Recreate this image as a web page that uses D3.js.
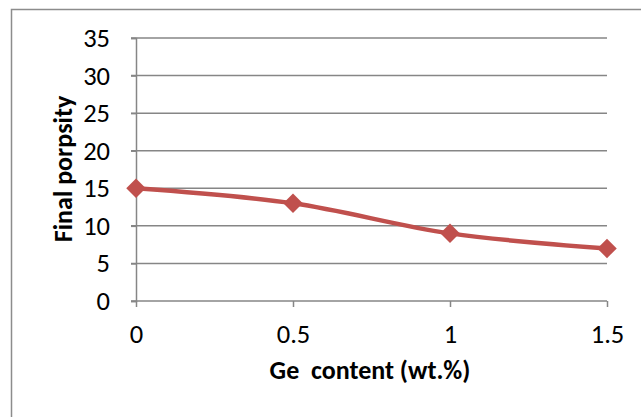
<!DOCTYPE html>
<html>
<head>
<meta charset="utf-8">
<script src="https://cdn.jsdelivr.net/npm/d3@7"></script>
<style>
  html, body { margin: 0; padding: 0; background: #fff; }
  svg { display: block; }
  text { font-family: Carlito, Lato, "Open Sans", sans-serif; fill: #000; }
</style>
</head>
<body>
<svg id="chart" width="641" height="417"></svg>
<script>
// Ge content (wt.%) vs final porosity
const categories = ["0", "0.5", "1", "1.5"];
const porosity = [15, 13, 9, 7];
const yTicks = [0, 5, 10, 15, 20, 25, 30, 35];

const svg = d3.select("#chart");

// Chart frame (top and left edges visible within the page)
svg.append("path")
  .attr("d", "M11.5,417 V9.5 H641")
  .attr("fill", "none")
  .attr("stroke", "#8c8c8c")
  .attr("stroke-width", 1.5);

const x = d3.scalePoint().domain(categories).range([136, 607]);
const y = d3.scaleLinear().domain([0, 35]).range([301, 38]);

// Horizontal gridlines
svg.append("g")
  .selectAll("line")
  .data(yTicks.filter(d => d > 0))
  .join("line")
  .attr("x1", 131).attr("x2", 607)
  .attr("y1", d => y(d)).attr("y2", d => y(d))
  .attr("stroke", "#868686")
  .attr("stroke-width", 1.5);

// Y axis
const yAxis = svg.append("g")
  .attr("transform", "translate(136,0)")
  .call(d3.axisLeft(y).tickValues(yTicks).tickSize(5).tickPadding(21));
yAxis.select(".domain").attr("stroke", "#868686").attr("stroke-width", 1.5);
yAxis.selectAll(".tick line").attr("stroke", "#868686").attr("stroke-width", 1.5);
yAxis.selectAll(".tick text").style("font-size", "26.5px").attr("fill", "#000");

// X axis
const xAxis = svg.append("g")
  .attr("transform", "translate(0,301)")
  .call(d3.axisBottom(x).tickSize(6).tickPadding(17).tickSizeOuter(0));
xAxis.select(".domain").attr("d", "M131,0H607").attr("stroke", "#868686").attr("stroke-width", 1.5);
xAxis.selectAll(".tick line").attr("stroke", "#868686").attr("stroke-width", 1.5);
xAxis.selectAll(".tick text").style("font-size", "26.5px").attr("fill", "#000");

// Axis titles
svg.append("text")
  .attr("x", 370).attr("y", 379)
  .attr("text-anchor", "middle")
  .style("font-size", "26px").style("font-weight", "bold")
  .attr("xml:space", "preserve")
  .text("Ge  content (wt.%)");

svg.append("text")
  .attr("transform", "translate(72,169) rotate(-90)")
  .attr("text-anchor", "middle")
  .style("font-size", "26px").style("font-weight", "bold")
  .text("Final porpsity");

// Smoothed series line
const pts = categories.map((c, i) => [x(c), y(porosity[i])]);
svg.append("path")
  .datum(pts)
  .attr("d", d3.line().curve(d3.curveCatmullRom.alpha(0.5)))
  .attr("fill", "none")
  .attr("stroke", "#C0504D")
  .attr("stroke-width", 4.5)
  .attr("stroke-linejoin", "round");

// Diamond markers
svg.append("g")
  .selectAll("path")
  .data(pts)
  .join("path")
  .attr("transform", d => `translate(${d[0]},${d[1]}) rotate(45)`)
  .attr("d", d3.symbol().type(d3.symbolSquare).size(190))
  .attr("fill", "#C0504D");
</script>
</body>
</html>
